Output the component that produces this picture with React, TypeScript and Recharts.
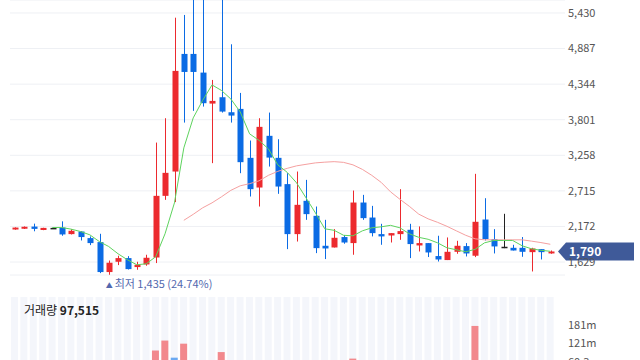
import React from 'react';
import { ComposedChart, Bar, Line, XAxis, YAxis, CartesianGrid, ReferenceLine, ReferenceDot, Cell } from 'recharts';

// daily candles, oldest first
const days = [
	1, 2, 3, 4, 5, 6, 7, 8, 9, 10, 11, 12, 13, 14, 15, 16, 17, 18, 19, 20,
	21, 22, 23, 24, 25, 26, 27, 28, 29, 30, 31, 32, 33, 34, 35, 36, 37, 38, 39, 40,
	41, 42, 43, 44, 45, 46, 47, 48, 49, 50, 51, 52, 53, 54, 55, 56, 57, 58,
];
const opens = [
	2125, 2137, 2170, 2118, 2150, 2155, 2055, 2095, 1994, 1933, 1476, 1633, 1689, 1552, 1592, 1698, 2639, 3010, 4805, 4805,
	4520, 4047, 4144, 3915, 3966, 3219, 2766, 3555, 3219, 2818, 2055, 2563, 2334, 1877, 1851, 2010, 1918, 2537, 2308, 2055,
	2034, 2055, 2121, 1882, 1918, 1720, 1659, 1785, 1872, 1725, 2278, 1979, 1862, 1846, 1846, 1780, 1826, 1760,
];
const highs = [
	2158, 2172, 2215, 2152, 2155, 2250, 2130, 2100, 2020, 2060, 1652, 1725, 1719, 1633, 1740, 3452, 3824, 5358, 5400, 5800,
	5900, 4408, 5700, 4952, 4210, 3483, 3824, 3910, 3503, 2985, 3010, 2883, 2476, 2273, 2131, 2040, 2720, 2654, 2486, 2212,
	2070, 2741, 2212, 2172, 1918, 2030, 2004, 1953, 1918, 2975, 2603, 2131, 2365, 1892, 2010, 1846, 1826, 1805,
];
const lows = [
	2122, 2133, 2098, 2115, 2145, 2030, 2050, 1958, 1887, 1460, 1435, 1582, 1515, 1511, 1572, 1613, 2578, 2543, 3757, 3936,
	4001, 3138, 3910, 3757, 2985, 2629, 2476, 3086, 2670, 1826, 1942, 2273, 1765, 1674, 1851, 1908, 1740, 2273, 2020, 1892,
	1927, 1968, 1689, 1790, 1705, 1637, 1659, 1755, 1714, 1704, 1958, 1760, 1841, 1805, 1709, 1485, 1668, 1755,
];
const closes = [
	2155, 2167, 2135, 2150, 2150, 2050, 2106, 2010, 1918, 1476, 1618, 1689, 1521, 1587, 1694, 2639, 2990, 4546, 4530, 4530,
	4053, 4088, 3925, 3864, 3153, 2741, 3692, 3223, 2781, 2055, 2502, 2360, 1841, 1836, 1999, 1927, 2537, 2299, 2070, 2020,
	2070, 2101, 1903, 1918, 1775, 1668, 1785, 1877, 1760, 2243, 1979, 1867, 1862, 1805, 1785, 1836, 1780, 1790,
];
const ma5 = [
	null, null, null, null, 2156, 2156, 2131, 2095, 2044, 1942, 1866, 1755, 1663, 1587, 1602, 1709, 2060, 2532, 3371, 3829,
	4096, 4332, 4248, 4118, 3920, 3585, 3486, 3356, 3112, 2998, 2837, 2609, 2380, 2136, 2113, 2037, 2029, 2105, 2151, 2166,
	2189, 2151, 2060, 2006, 1976, 1922, 1846, 1816, 1785, 1823, 1922, 1958, 1958, 1958, 1877, 1831, 1808, 1793,
];
const ma20 = [
	null, null, null, null, null, null, null, null, null, null, null, null, null, null, null, null, null, null, 2266, 2357,
	2456, 2532, 2624, 2723, 2792, 2825, 2868, 2952, 3013, 3059, 3097, 3120, 3142, 3153, 3161, 3150, 3112, 3043, 2952, 2845,
	2700, 2586, 2479, 2360, 2288, 2235, 2174, 2105, 2037, 1983, 1968, 1968, 1968, 1968, 1968, 1948, 1926, 1900,
];
const volumes = [
	6e6, 4e6, 8e6, 5e6, 3e6, 12e6, 7e6, 10e6, 14e6, 40e6, 30e6, 22e6, 18e6, 12e6, 25e6, 98e6, 130e6, 75e6, 120e6, 60e6,
	55e6, 50e6, 93e6, 45e6, 55e6, 40e6, 60e6, 35e6, 30e6, 45e6, 40e6, 25e6, 35e6, 20e6, 15e6, 10e6, 72e6, 30e6, 20e6, 12e6,
	8e6, 25e6, 18e6, 10e6, 12e6, 9e6, 14e6, 8e6, 6e6, 177e6, 50e6, 20e6, 15e6, 5e6, 8e6, 12e6, 4e6, 97515,
];

const priceTicks = [1629, 2172, 2715, 3258, 3801, 4344, 4887, 5430];
const volTicks = [60.3e6, 120.6e6, 180.9e6];
const volTickLabels = ['60.3m', '121m', '181m'];
const lastPrice = 1790;
const lowPrice = 1435;
const lowDay = 11;

const UP = '#ec2a2e';
const DOWN = '#0b6be4';
const FLAT = '#222';
const VOL_UP = '#f2898d';
const VOL_DOWN = '#6aa9f2';

const data = days.map((day, i) => ({
	day,
	open: opens[i],
	high: highs[i],
	low: lows[i],
	close: closes[i],
	range: [lows[i], highs[i]],
	ma5: ma5[i],
	ma20: ma20[i],
	volume: volumes[i],
}));

const Candle = (props: any) => {
	const { x, y, width, height, payload } = props;
	const { open, close, high, low } = payload;
	const top = Math.min(y, y + height);
	const h = Math.abs(height);
	const span = high - low || 1;
	const toY = (v: number) => top + ((high - v) / span) * h;
	const cx = Math.round(x + width / 2) + 0.5;
	const color = close > open ? UP : close < open ? DOWN : FLAT;
	const yo = toY(open);
	const yc = toY(close);
	const bodyTop = Math.min(yo, yc);
	const bodyH = Math.max(Math.abs(yo - yc), 1.5);
	return (
		<g>
			<line x1={cx} x2={cx} y1={top} y2={top + h} stroke={color} strokeWidth={1} />
			<rect x={cx - 3} y={bodyTop} width={6} height={bodyH} fill={color} />
		</g>
	);
};

const PriceTag = (props: any) => {
	const vb = props.viewBox;
	if (!vb) return null;
	const r = vb.x + vb.width;
	const cy = vb.y;
	const pts = `${r - 7},${cy} ${r + 1},${cy - 9} ${r + 69},${cy - 9} ${r + 69},${cy + 9} ${r + 1},${cy + 9}`;
	return (
		<g>
			<polygon points={pts} fill="#3f5a99" />
			<text x={r + 4} y={cy + 4.5} fill="#fff" fontSize={12} fontWeight={700}>
				{lastPrice.toLocaleString()}
			</text>
		</g>
	);
};

const LowLabel = (props: any) => {
	const { cx, cy } = props;
	const pct = (((lastPrice - lowPrice) / lowPrice) * 100).toFixed(2);
	return (
		<text x={cx - 3} y={cy + 13} fill="#5268ae" fontSize={11}>
			<tspan fontSize={7}>▲</tspan>
			<tspan dx={2}>{`최저 ${lowPrice.toLocaleString()} (${pct}%)`}</tspan>
		</text>
	);
};

export default function App() {
	return (
		<div
			style={{
				position: 'absolute',
				left: 0,
				top: 0,
				width: 640,
				height: 360,
				overflow: 'hidden',
				background: '#fff',
				fontFamily: "'Noto Sans CJK KR', 'Noto Sans', sans-serif",
			}}
		>
			<div style={{ position: 'absolute', left: 0, top: 0 }}>
				<ComposedChart width={640} height={297} data={data} margin={{ top: 0, right: 0, left: 10, bottom: 22 }}>
					<CartesianGrid horizontal vertical={false} stroke="#eef0f4" />
					<XAxis dataKey="day" hide padding={{ left: 0, right: 10 }} />
					<YAxis
						orientation="right"
						width={75}
						domain={[1431, 5628]}
						allowDataOverflow
						ticks={priceTicks}
						tickFormatter={(v: number) => v.toLocaleString()}
						tick={{ fill: '#555', fontSize: 11 }}
						tickSize={0}
						tickMargin={3}
						axisLine={false}
						tickLine={false}
					/>
					<Bar dataKey="range" shape={<Candle />} isAnimationActive={false} />
					<Line type="linear" dataKey="ma20" stroke="#f5a0a0" strokeWidth={1} dot={false} activeDot={false} isAnimationActive={false} />
					<Line type="linear" dataKey="ma5" stroke="#5ed35e" strokeWidth={1} dot={false} activeDot={false} isAnimationActive={false} />
					<ReferenceDot x={lowDay} y={lowPrice} r={0} shape={<LowLabel />} />
					<ReferenceLine y={lastPrice} stroke="none" label={<PriceTag />} />
				</ComposedChart>
			</div>
			<div style={{ position: 'absolute', left: 0, top: 297 }}>
				<ComposedChart width={640} height={84} data={data} margin={{ top: 0, right: 0, left: 10, bottom: 0 }}>
					<XAxis dataKey="day" hide padding={{ left: 0, right: 10 }} />
					<YAxis
						orientation="right"
						width={75}
						domain={[0, 270e6]}
						ticks={volTicks}
						tickFormatter={(v: number) => volTickLabels[volTicks.indexOf(v)] ?? ''}
						tick={{ fill: '#555', fontSize: 11 }}
						tickSize={0}
						tickMargin={3}
						axisLine={false}
						tickLine={false}
					/>
					<Bar dataKey="volume" barSize={7} background={{ fill: '#f4f6fb' }} isAnimationActive={false}>
						{data.map((d, i) => (
							<Cell key={d.day} fill={i > 0 && d.volume < volumes[i - 1] ? VOL_DOWN : VOL_UP} />
						))}
					</Bar>
				</ComposedChart>
			</div>
			<div style={{ position: 'absolute', left: 24, top: 301, fontSize: 12, color: '#222' }}>
				거래량 <b>{volumes[volumes.length - 1].toLocaleString()}</b>
			</div>
		</div>
	);
}
